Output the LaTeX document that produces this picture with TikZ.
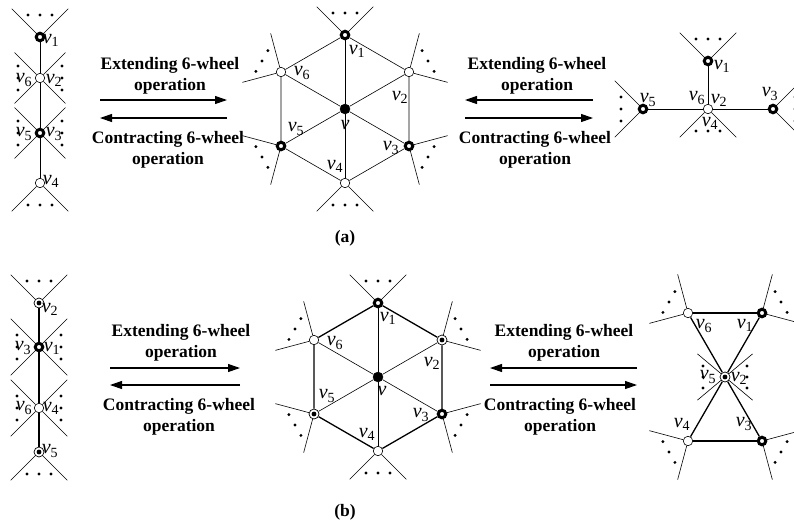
\documentclass[tikz,border=0pt]{standalone}
\usepackage{fontspec}
\setmainfont{Liberation Serif}
\usetikzlibrary{calc, arrows.meta}
\newcommand{\vx}[1]{\textit{v}\textsubscript{#1}}

\begin{document}
\begin{tikzpicture}[
    x=1pt, y=-1pt, % pixel-like grid, y runs downwards
    every node/.style={inner sep=0pt},
    wvert/.style={circle, draw, fill=white, minimum size=9.5pt, line width=0.6pt},
    bvert/.style={circle, draw, fill=white, minimum size=7.5pt, line width=3pt},
    cvert/.style={circle, draw, fill=black, minimum size=10pt},
    dvert/.style={circle, draw, fill=white, minimum size=10pt, line width=0.7pt},
    thinline/.style={line width=0.6pt},
    boldline/.style={line width=1.3pt},
    opr/.style={font=\fontsize{17.5}{21}\selectfont\bfseries, align=center},
    lbl/.style={font=\fontsize{20}{22}\selectfont},
    arr/.style={line width=1.1pt, -{Triangle[length=12pt, width=8pt]}}
]
    \useasboundingbox (0,0) rectangle (794,525);

    % (a) left column
    \node[bvert] (al1)  at (40,37)  {};
    \node[wvert] (al62) at (40,78)  {};
    \node[bvert] (al53) at (40,133) {};
    \node[wvert] (al4)  at (40,183) {};
    \draw[thinline] (al1) -- (al62) -- (al53) -- (al4);

    % (a) wheel
    \node[cvert] (am)  at (345,109) {};
    \node[bvert] (am1) at (345,35)  {};
    \node[wvert] (am2) at (409,72)  {};
    \node[bvert] (am3) at (409,146) {};
    \node[wvert] (am4) at (345,183) {};
    \node[bvert] (am5) at (281,146) {};
    \node[wvert] (am6) at (281,72)  {};
    \draw[thinline] (am1) -- (am2) -- (am3) -- (am4) -- (am5) -- (am6) -- (am1);
    \foreach \i in {1,...,6} \draw[thinline] (am) -- (am\i);

    % (a) right star
    \node[wvert] (ar62) at (708,109) {};
    \node[bvert] (ar1)  at (708,61)  {};
    \node[bvert] (ar5)  at (643,109) {};
    \node[bvert] (ar3)  at (773,109) {};
    \draw[thinline] (ar1) -- (ar62);
    \draw[thinline] (ar5) -- (ar62) -- (ar3);

    % (b) left column
    \node[dvert] (bl2)  at (39,303) {};
    \node[bvert] (bl31) at (39,347) {};
    \node[wvert] (bl64) at (39,408) {};
    \node[dvert] (bl5)  at (39,452) {};
    \draw[boldline] (bl2) -- (bl31) -- (bl64) -- (bl5);

    % (b) wheel
    \node[cvert] (bm)  at (378,377) {};
    \node[bvert] (bm1) at (378,303) {};
    \node[dvert] (bm2) at (442,340) {};
    \node[bvert] (bm3) at (442,414) {};
    \node[wvert] (bm4) at (378,451) {};
    \node[dvert] (bm5) at (314,414) {};
    \node[wvert] (bm6) at (314,340) {};
    \draw[boldline] (bm1) -- (bm2) -- (bm3) -- (bm4) -- (bm5) -- (bm6) -- (bm1);
    \foreach \i in {1,...,6} \draw[thinline] (bm) -- (bm\i);

    % (b) right bow-tie
    \node[wvert] (br6)  at (688,313) {};
    \node[bvert] (br1)  at (762,313) {};
    \node[dvert] (br52) at (725,377) {};
    \node[wvert] (br4)  at (688,441) {};
    \node[bvert] (br3)  at (762,441) {};
    \draw[boldline] (br6) -- (br1);
    \draw[boldline] (br4) -- (br3);
    \draw[boldline] (br6) -- (br52) -- (br3);
    \draw[boldline] (br1) -- (br52) -- (br4);

    % inner dots of the ringed vertices
    \foreach \n in {bl2, bl5, bm2, bm5, br52} \fill (\n) circle (2.4pt);

    % outer edges and dots
    \foreach \n/\a/\l in {al1/90/40, al62/180/36, al62/0/36, al53/180/36, al53/0/36, al4/-90/40,
        am1/90/40, am2/30/40, am3/-30/40, am4/-90/40, am5/210/40, am6/150/40,
        ar1/90/40, ar62/-90/40, ar5/180/40, ar3/0/40,
        bl2/90/40, bl31/180/40, bl31/0/40, bl64/180/40, bl64/0/40, bl5/-90/40,
        bm1/90/40, bm2/30/40, bm3/-30/40, bm4/-90/40, bm5/210/40, bm6/150/40,
        br6/150/40, br1/30/40, br4/210/40, br3/-30/40}{
      \draw[thinline] (\n) -- ++(\a+45:\l pt);
      \draw[thinline] (\n) -- ++(\a-45:\l pt);
      \foreach \s in {-12pt,0pt,12pt}
        \fill ($(\n)+(\a:22pt)+(\a+90:\s)$) circle (1.6pt);
    }
    \foreach \a in {0,180}{
      \draw[thinline] (br52) -- ++(\a+40:36pt);
      \draw[thinline] (br52) -- ++(\a-40:36pt);
      \foreach \s in {-11pt,0pt,11pt}
        \fill ($(br52)+(\a:22pt)+(\a+90:\s)$) circle (1.6pt);
    }

    % vertex labels
    \foreach \n/\t/\dx/\dy in {al1/1/11/3, al62/6/-16/2, al62/2/14/2, al53/5/-16/1,
        al53/3/14/1, al4/4/11/-2,
        am1/1/12/16, am2/2/-9/25, am3/3/-18/2, am4/4/-10/-17, am5/5/15/-17, am6/6/21/1,
        ar1/1/14/5, ar62/6/-11/-11, ar62/2/11/-9, ar62/4/2/14, ar5/5/5/-9, ar3/3/-3/-15,
        bl2/2/11/6, bl31/3/-16/1, bl31/1/13/1, bl64/6/-15/0, bl64/4/12/0, bl5/5/11/-1,
        bm1/1/10/15, bm2/2/-10/23, bm3/3/-21/1, bm4/4/-11/-17, bm5/5/13/-18, bm6/6/21/3,
        br6/6/16/13, br1/1/-17/12, br52/5/-17/0, br52/2/14/1, br4/4/-6/-17, br3/3/-18/-17}
      \node[lbl] (\n-\t) at ($(\n)+(\dx,\dy)$) {\vx{\t}};
    \node[lbl] (am-v) at ($(am)+(0,16)$) {\textit{v}};
    \node[lbl] (bm-v) at ($(bm)+(4,14)$) {\textit{v}};

    % operation texts
    \node[opr, anchor=north] (a-ext1) at (170,57)  {Extending 6-wheel\\operation};
    \node[opr, anchor=north] (a-con1) at (168,131) {Contracting 6-wheel\\operation};
    \node[opr, anchor=north] (a-ext2) at (537,57)  {Extending 6-wheel\\operation};
    \node[opr, anchor=north] (a-con2) at (535,131) {Contracting 6-wheel\\operation};
    \node[opr, anchor=north] (b-ext1) at (181,324) {Extending 6-wheel\\operation};
    \node[opr, anchor=north] (b-con1) at (179,398) {Contracting 6-wheel\\operation};
    \node[opr, anchor=north] (b-ext2) at (564,324) {Extending 6-wheel\\operation};
    \node[opr, anchor=north] (b-con2) at (560,398) {Contracting 6-wheel\\operation};

    % arrows
    \coordinate (a1-w) at (100,100); \coordinate (a1-e) at (227,100);
    \coordinate (a2-w) at (100,118); \coordinate (a2-e) at (227,118);
    \coordinate (a3-w) at (465,100); \coordinate (a3-e) at (593,100);
    \coordinate (a4-w) at (465,118); \coordinate (a4-e) at (593,118);
    \coordinate (b1-w) at (110,368); \coordinate (b1-e) at (240,368);
    \coordinate (b2-w) at (110,385); \coordinate (b2-e) at (240,385);
    \coordinate (b3-w) at (490,368); \coordinate (b3-e) at (637,368);
    \coordinate (b4-w) at (490,385); \coordinate (b4-e) at (637,385);
    \draw[arr] (a1-w) -- (a1-e);
    \draw[arr] (a2-e) -- (a2-w);
    \draw[arr] (a3-e) -- (a3-w);
    \draw[arr] (a4-w) -- (a4-e);
    \draw[arr] (b1-w) -- (b1-e);
    \draw[arr] (b2-e) -- (b2-w);
    \draw[arr] (b3-e) -- (b3-w);
    \draw[arr] (b4-w) -- (b4-e);

    % captions
    \node[opr] (cap-a) at (345,238) {(a)};
    \node[opr] (cap-b) at (345,512) {(b)};
\end{tikzpicture}
\end{document}
